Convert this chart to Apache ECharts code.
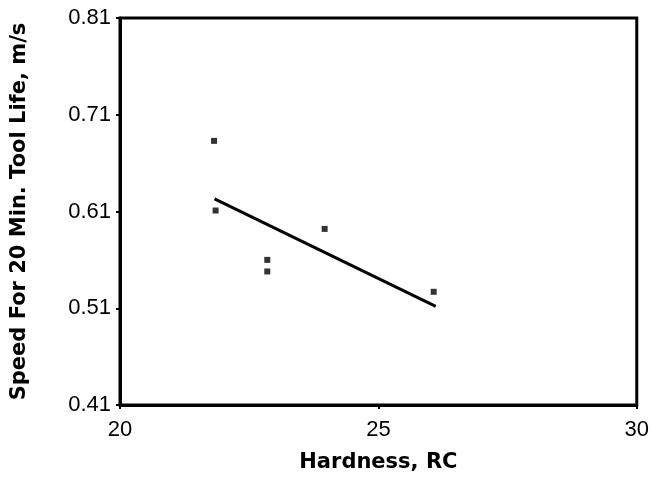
<!DOCTYPE html>
<html lang="en" style="height: 100%">
<head>
    <meta charset="UTF-8" />
    <title>Speed vs Hardness</title>
    <style>
        html, body { margin: 0; padding: 0; background: #fff; }
        #container { width: 652px; height: 485px; }
    </style>
</head>
<body>
    <div id="container"></div>
    <script src="https://cdn.jsdelivr.net/npm/echarts@6/dist/echarts.min.js"></script>
    <script type="text/javascript">
        // measured points (hardness RC, speed m/s)
        var hardness = [21.82, 21.85, 22.85, 22.85, 23.96, 26.07];
        var speed = [0.683, 0.611, 0.560, 0.548, 0.592, 0.527];
        // fitted trend line end points
        var fitX = [21.83, 26.11];
        var fitY = [0.623, 0.512];

        var pts = hardness.map(function (h, i) { return [h, speed[i]]; });
        var fit = fitX.map(function (h, i) { return [h, fitY[i]]; });

        var myChart = echarts.init(document.getElementById('container'));
        var font = 'Liberation Sans, Arial, Helvetica, sans-serif';
        var titleFont = 'DejaVu Sans, sans-serif';
        var option = {
            animation: false,
            grid: {
                left: 120, right: 11, top: 18, bottom: 80,
                show: true, borderColor: '#000', borderWidth: 3
            },
            xAxis: {
                type: 'value',
                min: 20, max: 30, interval: 5,
                name: 'Hardness, RC',
                nameLocation: 'middle',
                nameGap: 47,
                nameTextStyle: { fontFamily: titleFont, fontSize: 21, fontWeight: 'bold', color: '#000' },
                axisLine: { show: true, lineStyle: { color: '#000', width: 3 } },
                axisTick: { show: true, length: 4, lineStyle: { color: '#000', width: 2 } },
                axisLabel: { fontFamily: font, fontSize: 22, color: '#000', margin: 14 },
                splitLine: { show: false }
            },
            yAxis: {
                type: 'value',
                min: 0.41, max: 0.81, interval: 0.1,
                name: 'Speed For 20 Min. Tool Life, m/s',
                nameLocation: 'middle',
                nameGap: 90,
                nameTextStyle: { fontFamily: titleFont, fontSize: 21, fontWeight: 'bold', color: '#000' },
                axisLine: { show: true, lineStyle: { color: '#000', width: 3 } },
                axisTick: { show: true, length: 4, lineStyle: { color: '#000', width: 2 } },
                axisLabel: {
                    fontFamily: font, fontSize: 22, color: '#000', margin: 9,
                    formatter: function (v) { return v.toFixed(2); }
                },
                splitLine: { show: false }
            },
            series: [{
                type: 'scatter',
                data: pts,
                symbol: 'rect',
                symbolSize: 6,
                itemStyle: { color: '#000' }
            }, {
                type: 'line',
                data: fit,
                symbol: 'none',
                lineStyle: { color: '#000', width: 3 }
            }]
        };
        myChart.setOption(option);
    </script>
</body>
</html>
